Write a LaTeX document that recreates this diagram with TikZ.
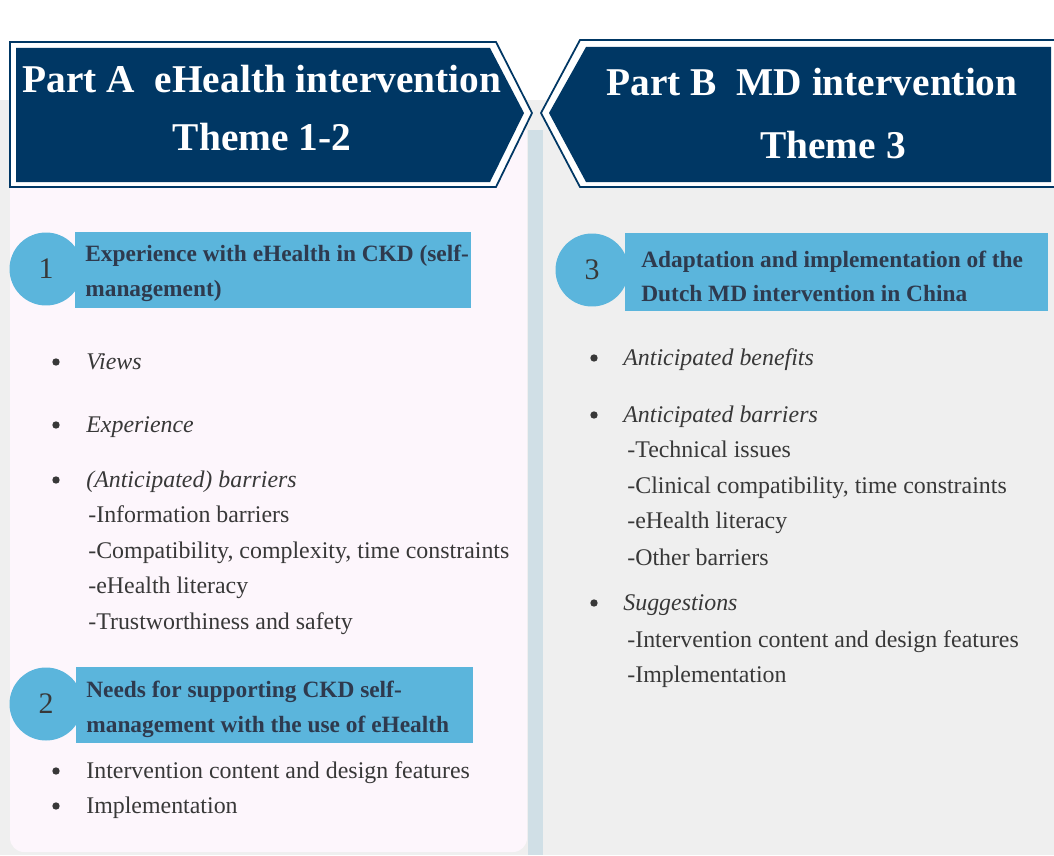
\documentclass[tikz,border=0pt]{standalone}
\usepackage{fontspec}
\setmainfont{Liberation Serif}
\usepackage{xcolor}
\usepackage{tikz}

\definecolor{navy}{HTML}{003764}
\definecolor{skyblue}{HTML}{5BB5DC}
\definecolor{panelpink}{HTML}{FDF6FC}
\definecolor{bggray}{HTML}{EFEFEF}
\definecolor{stripeblue}{HTML}{D0DFE6}
\definecolor{inktext}{HTML}{383838}
\definecolor{boxtext}{HTML}{2E3A4E}

\begin{document}
\begin{tikzpicture}[x=0.02cm, y=-0.02cm,
    bannertext/.style={anchor=base, text=white, font=\fontsize{22.4}{26}\selectfont\bfseries},
    heading/.style={anchor=base west, inner sep=0pt, text=boxtext, font=\fontsize{13.3}{16}\selectfont\bfseries},
    numbubble/.style={circle, fill=skyblue, minimum size=1.46cm, inner sep=0pt, text=inktext, font=\fontsize{17}{20}\selectfont},
    item/.style={anchor=base west, inner sep=0pt, text=inktext, font=\fontsize{13.6}{16}\selectfont},
    theme/.style={item, font=\fontsize{13.6}{16}\selectfont\itshape},
    dot/.style={circle, fill=inktext, inner sep=0pt, minimum size=4.2pt}]
            \useasboundingbox (0,0) rectangle (1054,855);
            \fill[white] (0,0) rectangle (1054,855);
            \fill[bggray] (0,100) rectangle (1054,855);
            \fill[panelpink, rounded corners=8pt] (10,130) rectangle (527,852);
            \fill[panelpink] (10,130) rectangle (527,220);
            \fill[stripeblue] (528,130) rectangle (543,855);

            % banners
            \filldraw[fill=white, draw=navy, line width=1pt] (10,42) -- (496,42) -- (532,113) -- (496,187) -- (10,187) -- cycle;
            \fill[navy] (16,48) -- (490,48) -- (524,113) -- (490,182) -- (16,182) -- cycle;
            \fill[white] (1054,40) -- (580,40) -- (541,113) -- (580,187) -- (1054,187) -- cycle;
            \draw[navy, line width=1pt] (1054,40) -- (580,40) -- (541,113) -- (580,187) -- (1054,187);
            \fill[navy] (1051,47) -- (586,47) -- (549,113) -- (586,182) -- (1051,182) -- cycle;
            \node[bannertext] (partA) at (262,92) {Part A\ \ eHealth intervention};
            \node[bannertext] (themeA) at (262,151) {Theme 1-2};
            \node[bannertext] (partB) at (812,95) {Part B\ \ MD intervention};
            \node[bannertext] (themeB) at (833,158) {Theme 3};

            % theme 1
            \node[numbubble] (num1) at (46,269) {1};
            \fill[skyblue] (75,232) rectangle (471,308);
            \node[heading] (head1a) at (85,261) {Experience with eHealth in CKD (self-};
            \node[heading] (head1b) at (85,296) {management)};

            \node[dot] (dot1) at (56,362) {};
            \node[theme] (views) at (86,369) {Views};
            \node[dot] (dot2) at (56,425) {};
            \node[theme] (experience) at (86,432) {Experience};
            \node[dot] (dot3) at (56,480) {};
            \node[theme] (barriersA) at (86,487) {(Anticipated) barriers};
            \node[item] (infobar) at (88,522) {-Information barriers};
            \node[item] (compat) at (88,558) {-Compatibility, complexity, time constraints};
            \node[item] (literacyA) at (88,593) {-eHealth literacy};
            \node[item] (trust) at (88,629) {-Trustworthiness and safety};

            % theme 2
            \node[numbubble] (num2) at (46,704) {2};
            \fill[skyblue] (76,667) rectangle (473,743);
            \node[heading] (head2a) at (86,697) {Needs for supporting CKD self-};
            \node[heading] (head2b) at (86,732) {management with the use of eHealth};

            \node[dot] (dot4) at (56,771) {};
            \node[item] (contentA) at (86,778) {Intervention content and design features};
            \node[dot] (dot5) at (56,806) {};
            \node[item] (implA) at (86,813) {Implementation};

            % theme 3
            \node[numbubble] (num3) at (592,270) {3};
            \fill[skyblue] (625,233) rectangle (1048,311);
            \node[heading] (head3a) at (641,267) {Adaptation and implementation of the};
            \node[heading] (head3b) at (641,301) {Dutch MD intervention in China};

            \node[dot] (dot6) at (594,358) {};
            \node[theme] (benefits) at (623,365) {Anticipated benefits};
            \node[dot] (dot7) at (594,415) {};
            \node[theme] (barriersB) at (623,422) {Anticipated barriers};
            \node[item] (technical) at (627,457) {-Technical issues};
            \node[item] (clinical) at (627,493) {-Clinical compatibility, time constraints};
            \node[item] (literacyB) at (627,528) {-eHealth literacy};
            \node[item] (otherbar) at (627,565) {-Other barriers};
            \node[dot] (dot8) at (594,603) {};
            \node[theme] (suggest) at (623,610) {Suggestions};
            \node[item] (contentB) at (627,647) {-Intervention content and design features};
            \node[item] (implB) at (627,682) {-Implementation};
         \end{tikzpicture}
\end{document}
